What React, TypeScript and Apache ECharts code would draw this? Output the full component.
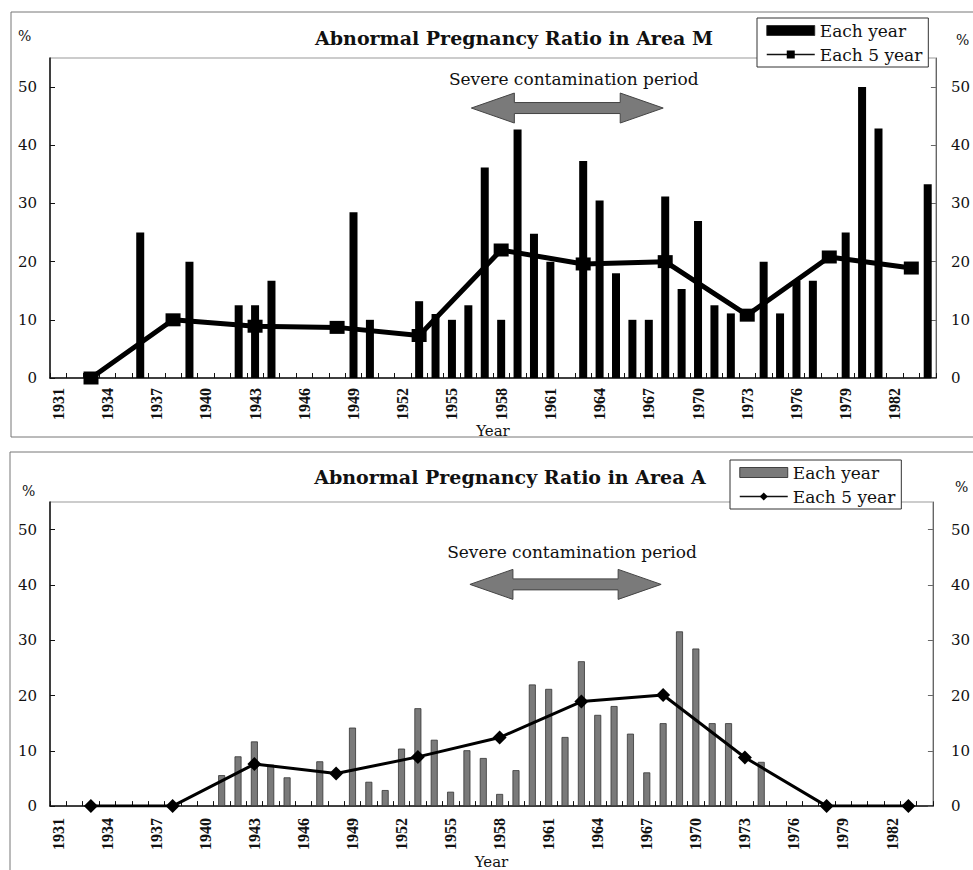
import React, { useEffect, useRef } from 'react';
import * as echarts from 'echarts';

// ---------- DATA ----------
const YEARS = [
  '1931','1932','1933','1934','1935','1936','1937','1938','1939','1940',
  '1941','1942','1943','1944','1945','1946','1947','1948','1949','1950',
  '1951','1952','1953','1954','1955','1956','1957','1958','1959','1960',
  '1961','1962','1963','1964','1965','1966','1967','1968','1969','1970',
  '1971','1972','1973','1974','1975','1976','1977','1978','1979','1980',
  '1981','1982','1983','1984',
];

// Area M — each year
const M_YEAR_CATS = [
  '1936','1939','1942','1943','1944','1949','1950','1953','1954','1955',
  '1956','1957','1958','1959','1960','1961','1963','1964','1965','1966',
  '1967','1968','1969','1970','1971','1972','1974','1975','1976','1977',
  '1979','1980','1981','1984',
];
const M_YEAR_VALUES = [
  25, 20, 12.5, 12.5, 16.7, 28.5, 10, 13.2, 11, 10,
  12.5, 36.2, 10, 42.7, 24.8, 20, 37.3, 30.5, 18, 10,
  10, 31.2, 15.3, 27, 12.5, 11.1, 20, 11.1, 16.7, 16.7,
  25, 50, 42.9, 33.3,
];
// Area M — each 5 year
const M_FIVE_CATS = ['1933','1938','1943','1948','1953','1958','1963','1968','1973','1978','1983'];
const M_FIVE_VALUES = [0, 10, 8.9, 8.7, 7.3, 22, 19.6, 20, 10.8, 20.8, 18.9];

// Area A — each year
const A_YEAR_CATS = [
  '1941','1942','1943','1944','1945','1947','1949','1950','1951','1952',
  '1953','1954','1955','1956','1957','1958','1959','1960','1961','1962',
  '1963','1964','1965','1966','1967','1968','1969','1970','1971','1972',
  '1974',
];
const A_YEAR_VALUES = [
  5.6, 9.0, 11.7, 7.5, 5.2, 8.1, 14.2, 4.4, 2.9, 10.4,
  17.7, 12.0, 2.6, 10.1, 8.7, 2.2, 6.5, 22.0, 21.2, 12.5,
  26.2, 16.5, 18.1, 13.1, 6.1, 15.0, 31.6, 28.5, 15.0, 15.0,
  8.0,
];
// Area A — each 5 year
const A_FIVE_CATS = ['1933','1938','1943','1948','1953','1958','1963','1968','1973','1978','1983'];
const A_FIVE_VALUES = [0, 0, 7.6, 5.9, 8.9, 12.4, 18.9, 20.1, 8.8, 0, 0];

const Y_TICKS_MIN = 0;
const Y_TICKS_MAX = 55;
const Y_INTERVAL = 10;

const TITLE_M = 'Abnormal Pregnancy Ratio in Area M';
const TITLE_A = 'Abnormal Pregnancy Ratio in Area A';
const PERIOD_LABEL = 'Severe contamination period';
const PERIOD_START = '1956';
const PERIOD_END = '1968';
const LEGEND_LABELS: Record<string, string> = {
  'M-year': 'Each year',
  'M-five': 'Each 5 year',
  'A-year': 'Each year',
  'A-five': 'Each 5 year',
};
const X_NAME = 'Year';
const UNIT = '%';

// ---------- STYLE ----------
const SERIF = '"DejaVu Serif", serif';
const NARROW = '"Liberation Serif", serif';
const INK = '#111';

function pairs(cats: string[], vals: number[]) {
  return cats.map((c, i) => [c, vals[i]]);
}

function xAxis(gridIndex: number, nameGap: number, labelMargin: number) {
  return {
    type: 'category',
    gridIndex,
    data: YEARS,
    boundaryGap: true,
    name: X_NAME,
    nameLocation: 'middle',
    nameGap,
    nameTextStyle: { fontFamily: SERIF, fontSize: 15, color: INK },
    axisLine: { show: true, lineStyle: { color: INK, width: 1.5 } },
    axisTick: { show: true, inside: true, length: 5, interval: 0, lineStyle: { color: INK, width: 1 } },
    axisLabel: {
      interval: 2,
      rotate: 90,
      margin: labelMargin,
      fontFamily: NARROW,
      fontWeight: 'bold',
      fontSize: 16,
      color: INK,
    },
    splitLine: { show: false },
  };
}

function yAxis(gridIndex: number, position: 'left' | 'right', margin: number) {
  return {
    type: 'value',
    gridIndex,
    position,
    min: Y_TICKS_MIN,
    max: Y_TICKS_MAX,
    interval: Y_INTERVAL,
    axisLine: {
      show: true,
      lineStyle: position === 'left' ? { color: INK, width: 1.5 } : { color: '#666', width: 1 },
    },
    axisTick: { show: true, inside: true, length: 5, lineStyle: { color: position === 'left' ? INK : '#666' } },
    axisLabel: {
      showMaxLabel: false,
      margin,
      fontFamily: SERIF,
      fontSize: 15,
      color: INK,
    },
    splitLine: { show: false },
  };
}

function legend(left: number, top: number, yearName: string, fiveName: string, yearColor: string) {
  return {
    orient: 'vertical',
    left,
    top,
    data: [
      { name: yearName, icon: 'rect', itemStyle: { color: yearColor, borderColor: '#222', borderWidth: 0.8 } },
      { name: fiveName },
    ],
    formatter: (n: string) => LEGEND_LABELS[n],
    itemWidth: 48,
    itemHeight: 10,
    itemGap: 5,
    padding: [3, 6, 3, 9],
    backgroundColor: '#fff',
    borderColor: '#333',
    borderWidth: 1,
    borderRadius: 0,
    lineStyle: { width: 1.5, color: INK },
    textStyle: { fontFamily: SERIF, fontSize: 17, color: INK, lineHeight: 19 },
    selectedMode: false,
  };
}

const option: any = {
  animation: false,
  backgroundColor: '#fff',
  grid: [
    { left: 50, width: 893, top: 58, height: 320, show: true, borderColor: '#999', borderWidth: 1, backgroundColor: 'transparent' },
    { left: 50, width: 889, top: 502, height: 311, show: true, borderColor: '#999', borderWidth: 1, backgroundColor: 'transparent' },
  ],
  xAxis: [xAxis(0, 40, 10), xAxis(1, 43, 12)],
  yAxis: [yAxis(0, 'left', 13), yAxis(0, 'right', 15), yAxis(1, 'left', 13), yAxis(1, 'right', 18)],
  legend: [
    legend(757, 18, 'M-year', 'M-five', '#000'),
    legend(730, 460, 'A-year', 'A-five', '#7a7a7a'),
  ],
  series: [
    {
      name: 'M-year',
      type: 'bar',
      xAxisIndex: 0,
      yAxisIndex: 0,
      barWidth: 8,
      itemStyle: { color: '#000' },
      data: pairs(M_YEAR_CATS, M_YEAR_VALUES),
      z: 2,
    },
    {
      name: 'M-five',
      type: 'line',
      xAxisIndex: 0,
      yAxisIndex: 0,
      symbol: 'rect',
      symbolSize: [15, 13],
      showSymbol: true,
      showAllSymbol: true,
      lineStyle: { color: '#000', width: 5 },
      itemStyle: { color: '#000' },
      data: pairs(M_FIVE_CATS, M_FIVE_VALUES),
      z: 3,
    },
    {
      name: 'A-year',
      type: 'bar',
      xAxisIndex: 1,
      yAxisIndex: 2,
      barWidth: 7,
      itemStyle: { color: '#7a7a7a', borderColor: '#333', borderWidth: 0.8 },
      data: pairs(A_YEAR_CATS, A_YEAR_VALUES),
      z: 2,
    },
    {
      name: 'A-five',
      type: 'line',
      xAxisIndex: 1,
      yAxisIndex: 2,
      symbol: 'diamond',
      symbolSize: 14,
      showSymbol: true,
      showAllSymbol: true,
      lineStyle: { color: '#000', width: 3 },
      itemStyle: { color: '#000' },
      data: pairs(A_FIVE_CATS, A_FIVE_VALUES),
      z: 3,
    },
  ],
};

function arrowPoints(x1: number, x2: number, y: number) {
  const head = 43;
  const hh = 15;
  const sh = 5.5;
  return [
    [x1, y],
    [x1 + head, y - hh],
    [x1 + head, y - sh],
    [x2 - head, y - sh],
    [x2 - head, y - hh],
    [x2, y],
    [x2 - head, y + hh],
    [x2 - head, y + sh],
    [x1 + head, y + sh],
    [x1 + head, y + hh],
  ];
}

export default function App() {
  const ref = useRef<HTMLDivElement>(null);
  useEffect(() => {
    const chart = echarts.init(ref.current!, null, { renderer: 'svg', width: 973, height: 870 });
    chart.setOption(option);

    const px = (gi: number, cat: string, v: number) =>
      chart.convertToPixel({ xAxisIndex: gi, yAxisIndex: gi * 2 } as any, [YEARS.indexOf(cat), v]) as number[];

    const unitStyle = { text: UNIT, fontFamily: SERIF, fontSize: 14, fill: INK, align: 'left', verticalAlign: 'middle' };
    const graphics: any[] = [
      { type: 'rect', silent: true, shape: { x: 11, y: 12, width: 990, height: 425 }, style: { fill: 'none', stroke: '#777', lineWidth: 1 } },
      { type: 'rect', silent: true, shape: { x: 10, y: 452, width: 990, height: 440 }, style: { fill: 'none', stroke: '#777', lineWidth: 1 } },
      { type: 'text', x: 514, y: 38, style: { text: TITLE_M, fontFamily: SERIF, fontWeight: 'bold', fontSize: 19, fill: INK, align: 'center', verticalAlign: 'middle' } },
      { type: 'text', x: 510, y: 477, style: { text: TITLE_A, fontFamily: SERIF, fontWeight: 'bold', fontSize: 19, fill: INK, align: 'center', verticalAlign: 'middle' } },
      { type: 'text', x: 18, y: 36, style: { ...unitStyle } },
      { type: 'text', x: 956, y: 40, style: { ...unitStyle } },
      { type: 'text', x: 22, y: 491, style: { ...unitStyle } },
      { type: 'text', x: 955, y: 487, style: { ...unitStyle } },
    ];

    const panels = [
      { gi: 0, arrowY: 46.4, textY: 51.4 },
      { gi: 1, arrowY: 40.1, textY: 45.9 },
    ];
    panels.forEach(({ gi, arrowY, textY }) => {
      const [x1, y] = px(gi, PERIOD_START, arrowY);
      const [x2] = px(gi, PERIOD_END, arrowY);
      const [, ty] = px(gi, PERIOD_START, textY);
      graphics.push({
        type: 'polygon',
        silent: true,
        shape: { points: arrowPoints(x1 + 3, x2 - 2, y) },
        style: { fill: '#7a7a7a', stroke: '#444', lineWidth: 1 },
        z: 10,
      });
      graphics.push({
        type: 'text',
        silent: true,
        x: (x1 + x2) / 2 + 7,
        y: ty,
        style: { text: PERIOD_LABEL, fontFamily: SERIF, fontSize: 17, fill: INK, align: 'center', verticalAlign: 'middle' },
        z: 10,
      });
    });

    chart.setOption({ graphic: graphics });
    return () => chart.dispose();
  }, []);
  return (
    <div
      ref={ref}
      style={{ position: 'fixed', left: 0, top: 0, width: 973, height: 870, background: '#fff' }}
    />
  );
}
